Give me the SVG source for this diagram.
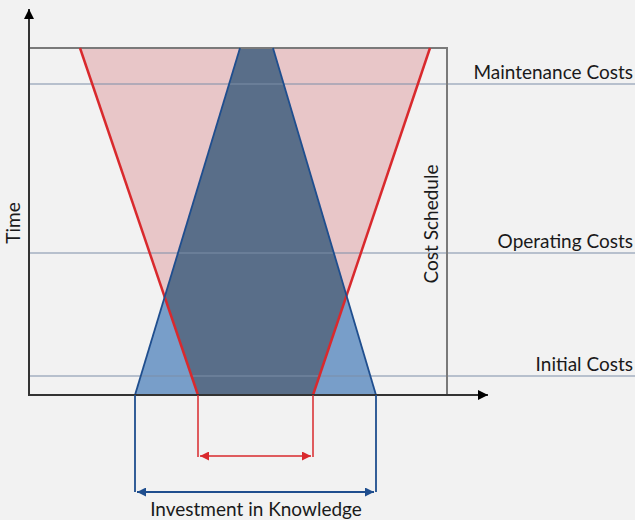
<svg xmlns="http://www.w3.org/2000/svg" width="635" height="520" viewBox="0 0 635 520">
<defs>
<style>
text{font-family:Lato,"Open Sans","Liberation Sans",sans-serif;font-size:19px;fill:#1a1a1a}
.hl{stroke:#7d8ea8;stroke-width:1.1;fill:none}
.gray{stroke:#7a7a7a;stroke-width:2;fill:none}
.axis{stroke:#333;stroke-width:2;fill:none}
.redl{stroke:#d9292d;stroke-width:1.5;fill:none}
.bluel{stroke:#1f4e8e;stroke-width:1.8;fill:none}
</style>
<marker id="ax" viewBox="0 0 10 10" refX="10" refY="5" markerWidth="12" markerHeight="10" markerUnits="userSpaceOnUse" orient="auto"><path d="M0,0L10,5L0,10z" fill="#000"/></marker>
<marker id="ra" viewBox="0 0 10 10" refX="10" refY="5" markerWidth="12" markerHeight="9" markerUnits="userSpaceOnUse" orient="auto-start-reverse"><path d="M0,0L10,5L0,10z" fill="#d9292d"/></marker>
<marker id="ba" viewBox="0 0 10 10" refX="10" refY="5" markerWidth="12" markerHeight="9" markerUnits="userSpaceOnUse" orient="auto-start-reverse"><path d="M0,0L10,5L0,10z" fill="#1f4e8e"/></marker>
<clipPath id="redclip"><polygon points="80,48 430,48 313,395 198,395"/></clipPath>
</defs>
<rect width="635" height="520" fill="#f2f2f2"/>
<g id="red-region">
<polygon points="80,48 430,48 313,395 198,395" fill="#e8c6c8"/>
</g>
<g id="blue-region">
<polygon points="240,48 273,48 376,395 135,395" fill="#789ec9"/>
<polygon points="240,48 273,48 376,395 135,395" fill="#596e89" clip-path="url(#redclip)"/>
</g>
<g id="grid">
<line class="hl" x1="29" y1="84" x2="635" y2="84"/>
<line class="hl" x1="29" y1="253" x2="635" y2="253"/>
<line class="hl" x1="29" y1="376" x2="635" y2="376"/>
<polyline class="gray" points="29,48 447,48 447,395"/>
</g>
<g id="outlines">
<polyline points="80,48 198,395" stroke="#d9292d" stroke-width="2.5" fill="none"/>
<polyline points="430,48 313,395" stroke="#d9292d" stroke-width="2.5" fill="none"/>
<polyline points="240,48 135,395" class="bluel"/>
<polyline points="273,48 376,395" class="bluel"/>
</g>
<g id="axes">
<line class="axis" x1="29" y1="396" x2="29" y2="9" marker-end="url(#ax)"/>
<line class="axis" x1="28" y1="395" x2="488" y2="395" marker-end="url(#ax)"/>
</g>
<g id="connectors">
<polyline class="redl" points="198,395 198,457"/>
<polyline class="redl" points="313,395 313,457"/>
<line class="redl" x1="200" y1="456" x2="311" y2="456" marker-start="url(#ra)" marker-end="url(#ra)"/>
<polyline class="bluel" points="135,395 135,492"/>
<polyline class="bluel" points="376,395 376,492"/>
<line class="bluel" x1="137" y1="492" x2="374" y2="492" marker-start="url(#ba)" marker-end="url(#ba)"/>
</g>
<g id="labels">
<text x="633" y="79" text-anchor="end">Maintenance Costs</text>
<text x="633" y="248" text-anchor="end">Operating Costs</text>
<text x="633" y="371" text-anchor="end">Initial Costs</text>
<text transform="translate(20,223) rotate(-90)" text-anchor="middle">Time</text>
<text transform="translate(438,224) rotate(-90)" text-anchor="middle">Cost Schedule</text>
<text x="256" y="516" text-anchor="middle">Investment in Knowledge</text>
</g>
</svg>
